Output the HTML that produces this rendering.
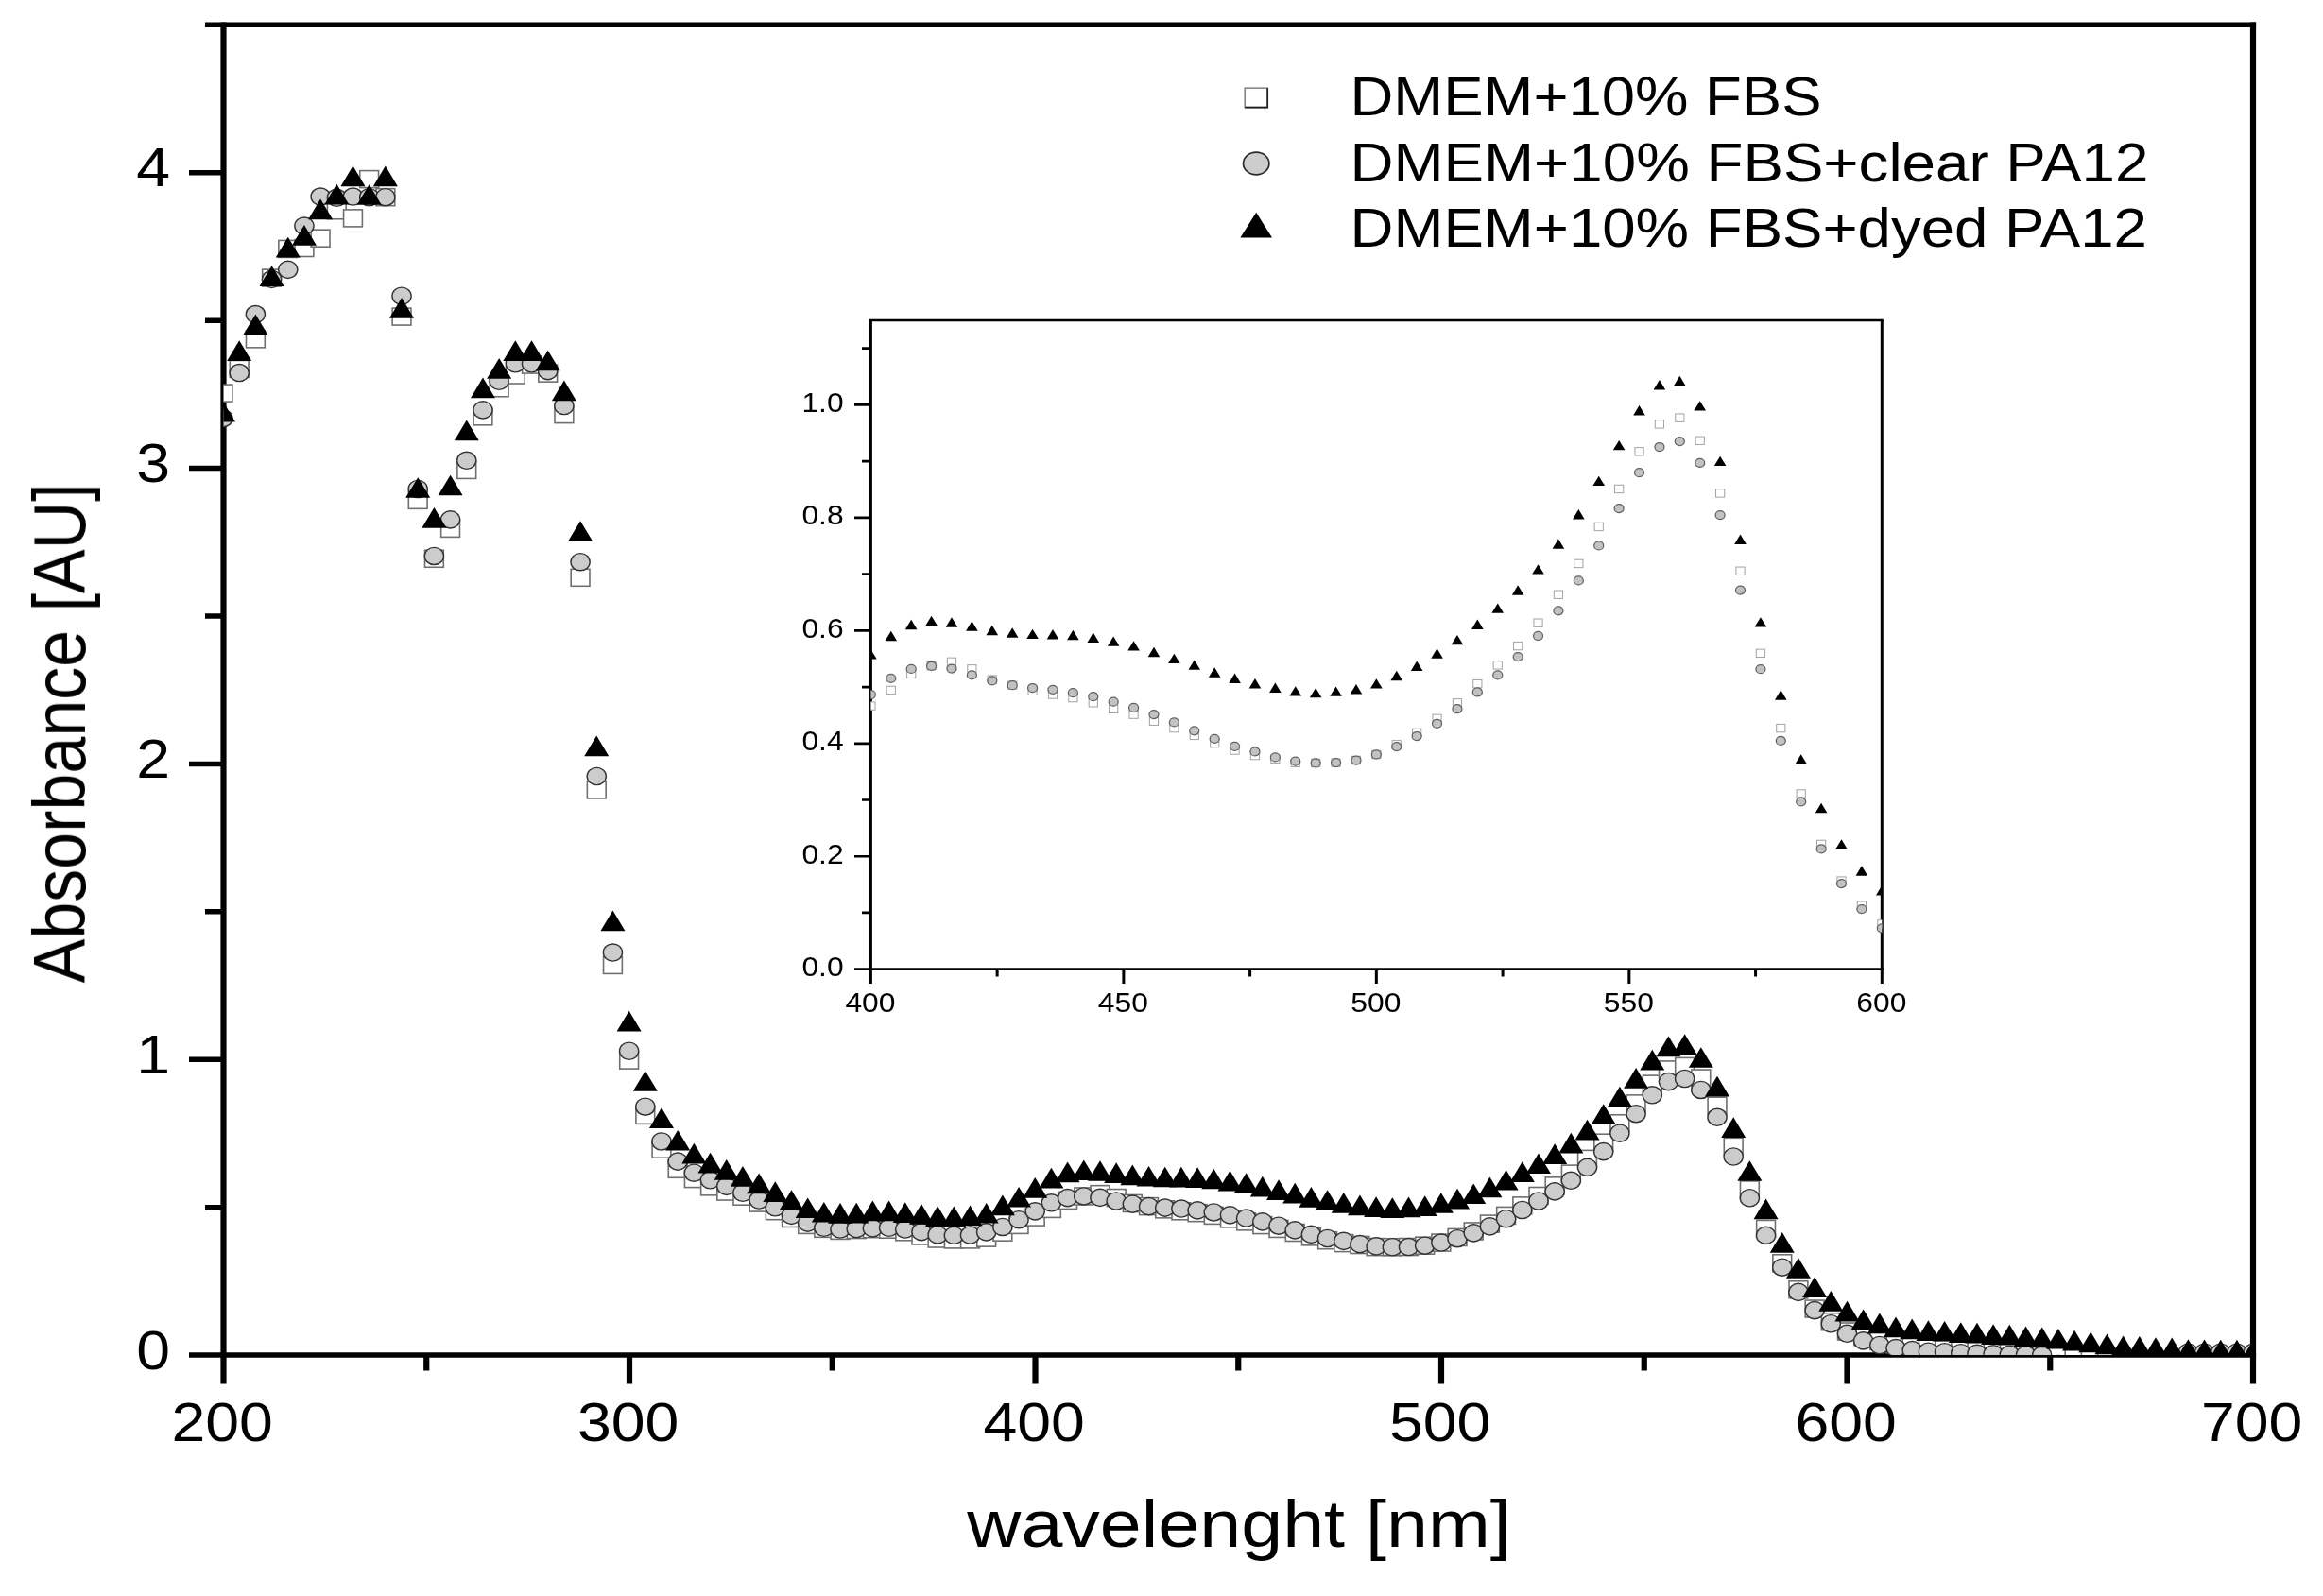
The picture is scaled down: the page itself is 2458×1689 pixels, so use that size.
<!DOCTYPE html>
<html lang="en"><head><meta charset="utf-8"><title>Absorbance spectra</title>
<style>html,body{margin:0;padding:0;background:#fff}svg{display:block}text{font-family:"Liberation Sans", sans-serif;fill:#000}</style>
</head><body>
<svg width="2458" height="1689" viewBox="0 0 2458 1689">
<rect x="0" y="0" width="2458" height="1689" fill="#fff"/>
<defs>
<clipPath id="cm"><rect x="236.5" y="26.3" width="2147.5" height="1407.75"/></clipPath>
<clipPath id="ci"><rect x="921.4" y="339" width="1069.9" height="686.7"/></clipPath>
<filter id="soft" x="0" y="0" width="100%" height="100%" filterUnits="userSpaceOnUse"><feGaussianBlur stdDeviation="0.6"/></filter>
</defs>
<g filter="url(#soft)">
<g stroke="#000" fill="none" stroke-linecap="butt">
<path d="M217 26.3H2387.1" stroke-width="5.5"/>
<path d="M200 1434.05H2387.1" stroke-width="5.5"/>
<path d="M236.5 23.55V1464.5" stroke-width="6.2"/>
<path d="M2384 23.55V1464.5" stroke-width="6.2"/>
<path d="M217 1277.63H236.5M200 1121.22H236.5M217 964.8H236.5M200 808.38H236.5M217 651.97H236.5M200 495.55H236.5M217 339.13H236.5M200 182.72H236.5" stroke-width="5.5"/>
<path d="M451.25 1434.05V1450.5M666 1434.05V1464.5M880.75 1434.05V1450.5M1095.5 1434.05V1464.5M1310.25 1434.05V1450.5M1525 1434.05V1464.5M1739.75 1434.05V1450.5M1954.5 1434.05V1464.5M2169.25 1434.05V1450.5" stroke-width="6.2"/>
</g>
<g clip-path="url(#cm)">
<g fill="#fff" stroke="#707070" stroke-width="1.6">
<rect x="226.1" y="407.09" width="19.8" height="18"/>
<rect x="243.28" y="381.44" width="19.8" height="18"/>
<rect x="260.47" y="349.84" width="19.8" height="18"/>
<rect x="277.65" y="285.09" width="19.8" height="18"/>
<rect x="294.84" y="254.43" width="19.8" height="18"/>
<rect x="312.02" y="253.49" width="19.8" height="18"/>
<rect x="329.21" y="243.17" width="19.8" height="18"/>
<rect x="346.39" y="213.76" width="19.8" height="18"/>
<rect x="363.58" y="221.89" width="19.8" height="18"/>
<rect x="380.76" y="180.6" width="19.8" height="18"/>
<rect x="397.95" y="199.68" width="19.8" height="18"/>
<rect x="415.13" y="326.07" width="19.8" height="18"/>
<rect x="432.32" y="520.34" width="19.8" height="18"/>
<rect x="449.5" y="582.28" width="19.8" height="18"/>
<rect x="466.69" y="550.37" width="19.8" height="18"/>
<rect x="483.87" y="488.43" width="19.8" height="18"/>
<rect x="501.06" y="431.8" width="19.8" height="18"/>
<rect x="518.24" y="401.77" width="19.8" height="18"/>
<rect x="535.43" y="388.01" width="19.8" height="18"/>
<rect x="552.61" y="377.06" width="19.8" height="18"/>
<rect x="569.8" y="386.13" width="19.8" height="18"/>
<rect x="586.98" y="429.61" width="19.8" height="18"/>
<rect x="604.17" y="602.3" width="19.8" height="18"/>
<rect x="621.35" y="826.91" width="19.8" height="18"/>
<rect x="638.54" y="1012.42" width="19.8" height="18"/>
<rect x="655.72" y="1113.09" width="19.8" height="18"/>
<rect x="672.9" y="1171.34" width="19.8" height="18"/>
<rect x="690.09" y="1207.22" width="19.8" height="18"/>
<rect x="707.27" y="1228.28" width="19.8" height="18"/>
<rect x="724.46" y="1238.6" width="19.8" height="18"/>
<rect x="741.64" y="1246.86" width="19.8" height="18"/>
<rect x="758.83" y="1252.05" width="19.8" height="18"/>
<rect x="776.01" y="1257.21" width="19.8" height="18"/>
<rect x="793.2" y="1264.1" width="19.8" height="18"/>
<rect x="810.38" y="1272.7" width="19.8" height="18"/>
<rect x="827.57" y="1280.46" width="19.8" height="18"/>
<rect x="844.75" y="1287.4" width="19.8" height="18"/>
<rect x="861.94" y="1291.35" width="19.8" height="18"/>
<rect x="879.12" y="1293.41" width="19.8" height="18"/>
<rect x="896.31" y="1292.53" width="19.8" height="18"/>
<rect x="913.49" y="1291.69" width="19.8" height="18"/>
<rect x="930.68" y="1292.19" width="19.8" height="18"/>
<rect x="947.86" y="1294.79" width="19.8" height="18"/>
<rect x="965.05" y="1298.92" width="19.8" height="18"/>
<rect x="982.23" y="1302.01" width="19.8" height="18"/>
<rect x="999.42" y="1302.89" width="19.8" height="18"/>
<rect x="1016.6" y="1302.89" width="19.8" height="18"/>
<rect x="1033.79" y="1301.17" width="19.8" height="18"/>
<rect x="1050.97" y="1295.16" width="19.8" height="18"/>
<rect x="1068.16" y="1287.4" width="19.8" height="18"/>
<rect x="1085.34" y="1279.11" width="19.8" height="18"/>
<rect x="1102.52" y="1270.39" width="19.8" height="18"/>
<rect x="1119.71" y="1261.41" width="19.8" height="18"/>
<rect x="1136.89" y="1256.96" width="19.8" height="18"/>
<rect x="1154.08" y="1254.65" width="19.8" height="18"/>
<rect x="1171.26" y="1258.56" width="19.8" height="18"/>
<rect x="1188.45" y="1264.47" width="19.8" height="18"/>
<rect x="1205.63" y="1267.63" width="19.8" height="18"/>
<rect x="1222.82" y="1270.85" width="19.8" height="18"/>
<rect x="1240" y="1272.79" width="19.8" height="18"/>
<rect x="1257.19" y="1274.67" width="19.8" height="18"/>
<rect x="1274.37" y="1277.39" width="19.8" height="18"/>
<rect x="1291.56" y="1280.8" width="19.8" height="18"/>
<rect x="1308.74" y="1283.84" width="19.8" height="18"/>
<rect x="1325.93" y="1287.59" width="19.8" height="18"/>
<rect x="1343.11" y="1291.44" width="19.8" height="18"/>
<rect x="1360.3" y="1295.51" width="19.8" height="18"/>
<rect x="1377.48" y="1299.82" width="19.8" height="18"/>
<rect x="1394.67" y="1303.7" width="19.8" height="18"/>
<rect x="1411.85" y="1306.61" width="19.8" height="18"/>
<rect x="1429.04" y="1308.52" width="19.8" height="18"/>
<rect x="1446.22" y="1310.65" width="19.8" height="18"/>
<rect x="1463.41" y="1310.74" width="19.8" height="18"/>
<rect x="1480.59" y="1310.55" width="19.8" height="18"/>
<rect x="1497.78" y="1309.21" width="19.8" height="18"/>
<rect x="1514.96" y="1306.05" width="19.8" height="18"/>
<rect x="1532.14" y="1300.45" width="19.8" height="18"/>
<rect x="1549.33" y="1293.97" width="19.8" height="18"/>
<rect x="1566.51" y="1286.09" width="19.8" height="18"/>
<rect x="1583.7" y="1277.42" width="19.8" height="18"/>
<rect x="1600.88" y="1266.88" width="19.8" height="18"/>
<rect x="1618.07" y="1256.5" width="19.8" height="18"/>
<rect x="1635.25" y="1245.86" width="19.8" height="18"/>
<rect x="1652.44" y="1233.1" width="19.8" height="18"/>
<rect x="1669.62" y="1217.39" width="19.8" height="18"/>
<rect x="1686.81" y="1200.22" width="19.8" height="18"/>
<rect x="1703.99" y="1179.79" width="19.8" height="18"/>
<rect x="1721.18" y="1158.86" width="19.8" height="18"/>
<rect x="1738.36" y="1138.12" width="19.8" height="18"/>
<rect x="1755.55" y="1122.95" width="19.8" height="18"/>
<rect x="1772.73" y="1119.41" width="19.8" height="18"/>
<rect x="1789.92" y="1132.05" width="19.8" height="18"/>
<rect x="1807.1" y="1161.21" width="19.8" height="18"/>
<rect x="1824.29" y="1204.31" width="19.8" height="18"/>
<rect x="1841.47" y="1249.93" width="19.8" height="18"/>
<rect x="1858.66" y="1291.44" width="19.8" height="18"/>
<rect x="1875.84" y="1327.79" width="19.8" height="18"/>
<rect x="1893.03" y="1355.76" width="19.8" height="18"/>
<rect x="1910.21" y="1376.03" width="19.8" height="18"/>
<rect x="1927.4" y="1389.7" width="19.8" height="18"/>
<rect x="1944.58" y="1400.02" width="19.8" height="18"/>
<rect x="1961.76" y="1405.65" width="19.8" height="18"/>
<rect x="1978.95" y="1410.35" width="19.8" height="18"/>
<rect x="1996.13" y="1413.88" width="19.8" height="18"/>
<rect x="2013.32" y="1415.98" width="19.8" height="18"/>
<rect x="2030.5" y="1418.01" width="19.8" height="18"/>
<rect x="2047.69" y="1418.54" width="19.8" height="18"/>
<rect x="2064.87" y="1419.73" width="19.8" height="18"/>
<rect x="2082.06" y="1420.36" width="19.8" height="18"/>
<rect x="2099.24" y="1420.98" width="19.8" height="18"/>
<rect x="2116.43" y="1421.61" width="19.8" height="18"/>
<rect x="2133.61" y="1422.23" width="19.8" height="18"/>
<rect x="2150.8" y="1423.8" width="19.8" height="18"/>
<rect x="2167.98" y="1426.3" width="19.8" height="18"/>
<rect x="2185.17" y="1427.87" width="19.8" height="18"/>
<rect x="2202.35" y="1429.43" width="19.8" height="18"/>
<rect x="2219.54" y="1431.62" width="19.8" height="18"/>
<rect x="2236.72" y="1432.56" width="19.8" height="18"/>
<rect x="2253.91" y="1434.43" width="19.8" height="18"/>
<rect x="2271.09" y="1434.43" width="19.8" height="18"/>
<rect x="2288.28" y="1434.43" width="19.8" height="18"/>
<rect x="2305.46" y="1434.43" width="19.8" height="18"/>
<rect x="2322.65" y="1434.43" width="19.8" height="18"/>
<rect x="2339.83" y="1434.43" width="19.8" height="18"/>
<rect x="2357.02" y="1434.43" width="19.8" height="18"/>
<rect x="2374.2" y="1434.43" width="19.8" height="18"/>
</g>
<g fill="#cccccc" stroke="#333" stroke-width="1.4">
<ellipse cx="236" cy="442.68" rx="10.1" ry="9.1"/>
<ellipse cx="253.18" cy="394.57" rx="10.1" ry="9.1"/>
<ellipse cx="270.37" cy="332.56" rx="10.1" ry="9.1"/>
<ellipse cx="287.55" cy="295.34" rx="10.1" ry="9.1"/>
<ellipse cx="304.74" cy="285.33" rx="10.1" ry="9.1"/>
<ellipse cx="321.92" cy="239.03" rx="10.1" ry="9.1"/>
<ellipse cx="339.11" cy="208.06" rx="10.1" ry="9.1"/>
<ellipse cx="356.29" cy="209.31" rx="10.1" ry="9.1"/>
<ellipse cx="373.48" cy="208.06" rx="10.1" ry="9.1"/>
<ellipse cx="390.66" cy="208.68" rx="10.1" ry="9.1"/>
<ellipse cx="407.85" cy="208.68" rx="10.1" ry="9.1"/>
<ellipse cx="425.03" cy="313.23" rx="10.1" ry="9.1"/>
<ellipse cx="442.22" cy="517.45" rx="10.1" ry="9.1"/>
<ellipse cx="459.4" cy="588.46" rx="10.1" ry="9.1"/>
<ellipse cx="476.59" cy="549.83" rx="10.1" ry="9.1"/>
<ellipse cx="493.77" cy="487.29" rx="10.1" ry="9.1"/>
<ellipse cx="510.96" cy="433.92" rx="10.1" ry="9.1"/>
<ellipse cx="528.14" cy="403.26" rx="10.1" ry="9.1"/>
<ellipse cx="545.33" cy="384.81" rx="10.1" ry="9.1"/>
<ellipse cx="562.51" cy="384.81" rx="10.1" ry="9.1"/>
<ellipse cx="579.7" cy="392.63" rx="10.1" ry="9.1"/>
<ellipse cx="596.88" cy="429.54" rx="10.1" ry="9.1"/>
<ellipse cx="614.07" cy="594.72" rx="10.1" ry="9.1"/>
<ellipse cx="631.25" cy="821.52" rx="10.1" ry="9.1"/>
<ellipse cx="648.44" cy="1008.03" rx="10.1" ry="9.1"/>
<ellipse cx="665.62" cy="1112.27" rx="10.1" ry="9.1"/>
<ellipse cx="682.8" cy="1171.21" rx="10.1" ry="9.1"/>
<ellipse cx="699.99" cy="1207.93" rx="10.1" ry="9.1"/>
<ellipse cx="717.17" cy="1229.14" rx="10.1" ry="9.1"/>
<ellipse cx="734.36" cy="1241.22" rx="10.1" ry="9.1"/>
<ellipse cx="751.54" cy="1248.79" rx="10.1" ry="9.1"/>
<ellipse cx="768.73" cy="1255.36" rx="10.1" ry="9.1"/>
<ellipse cx="785.91" cy="1262.24" rx="10.1" ry="9.1"/>
<ellipse cx="803.1" cy="1270" rx="10.1" ry="9.1"/>
<ellipse cx="820.28" cy="1277.76" rx="10.1" ry="9.1"/>
<ellipse cx="837.47" cy="1286.39" rx="10.1" ry="9.1"/>
<ellipse cx="854.65" cy="1294.15" rx="10.1" ry="9.1"/>
<ellipse cx="871.84" cy="1299.31" rx="10.1" ry="9.1"/>
<ellipse cx="889.02" cy="1301.03" rx="10.1" ry="9.1"/>
<ellipse cx="906.21" cy="1300.53" rx="10.1" ry="9.1"/>
<ellipse cx="923.39" cy="1299.84" rx="10.1" ry="9.1"/>
<ellipse cx="940.58" cy="1299.31" rx="10.1" ry="9.1"/>
<ellipse cx="957.76" cy="1301.03" rx="10.1" ry="9.1"/>
<ellipse cx="974.95" cy="1303.6" rx="10.1" ry="9.1"/>
<ellipse cx="992.13" cy="1306.73" rx="10.1" ry="9.1"/>
<ellipse cx="1009.32" cy="1307.35" rx="10.1" ry="9.1"/>
<ellipse cx="1026.5" cy="1307.04" rx="10.1" ry="9.1"/>
<ellipse cx="1043.69" cy="1303.91" rx="10.1" ry="9.1"/>
<ellipse cx="1060.87" cy="1298.47" rx="10.1" ry="9.1"/>
<ellipse cx="1078.06" cy="1290.71" rx="10.1" ry="9.1"/>
<ellipse cx="1095.24" cy="1281.86" rx="10.1" ry="9.1"/>
<ellipse cx="1112.42" cy="1272.82" rx="10.1" ry="9.1"/>
<ellipse cx="1129.61" cy="1267.59" rx="10.1" ry="9.1"/>
<ellipse cx="1146.79" cy="1265.96" rx="10.1" ry="9.1"/>
<ellipse cx="1163.98" cy="1267.4" rx="10.1" ry="9.1"/>
<ellipse cx="1181.16" cy="1271" rx="10.1" ry="9.1"/>
<ellipse cx="1198.35" cy="1274.1" rx="10.1" ry="9.1"/>
<ellipse cx="1215.53" cy="1276.63" rx="10.1" ry="9.1"/>
<ellipse cx="1232.72" cy="1278.13" rx="10.1" ry="9.1"/>
<ellipse cx="1249.9" cy="1279.07" rx="10.1" ry="9.1"/>
<ellipse cx="1267.09" cy="1280.86" rx="10.1" ry="9.1"/>
<ellipse cx="1284.27" cy="1282.95" rx="10.1" ry="9.1"/>
<ellipse cx="1301.46" cy="1285.83" rx="10.1" ry="9.1"/>
<ellipse cx="1318.64" cy="1289.08" rx="10.1" ry="9.1"/>
<ellipse cx="1335.83" cy="1292.84" rx="10.1" ry="9.1"/>
<ellipse cx="1353.01" cy="1297.19" rx="10.1" ry="9.1"/>
<ellipse cx="1370.2" cy="1301.88" rx="10.1" ry="9.1"/>
<ellipse cx="1387.38" cy="1306.38" rx="10.1" ry="9.1"/>
<ellipse cx="1404.57" cy="1310.51" rx="10.1" ry="9.1"/>
<ellipse cx="1421.75" cy="1313.42" rx="10.1" ry="9.1"/>
<ellipse cx="1438.94" cy="1316.58" rx="10.1" ry="9.1"/>
<ellipse cx="1456.12" cy="1318.83" rx="10.1" ry="9.1"/>
<ellipse cx="1473.31" cy="1319.74" rx="10.1" ry="9.1"/>
<ellipse cx="1490.49" cy="1319.55" rx="10.1" ry="9.1"/>
<ellipse cx="1507.68" cy="1318.21" rx="10.1" ry="9.1"/>
<ellipse cx="1524.86" cy="1315.05" rx="10.1" ry="9.1"/>
<ellipse cx="1542.04" cy="1310.7" rx="10.1" ry="9.1"/>
<ellipse cx="1559.23" cy="1304.85" rx="10.1" ry="9.1"/>
<ellipse cx="1576.41" cy="1297.9" rx="10.1" ry="9.1"/>
<ellipse cx="1593.6" cy="1289.77" rx="10.1" ry="9.1"/>
<ellipse cx="1610.78" cy="1280.48" rx="10.1" ry="9.1"/>
<ellipse cx="1627.97" cy="1271" rx="10.1" ry="9.1"/>
<ellipse cx="1645.15" cy="1260.9" rx="10.1" ry="9.1"/>
<ellipse cx="1662.34" cy="1249.32" rx="10.1" ry="9.1"/>
<ellipse cx="1679.52" cy="1235.34" rx="10.1" ry="9.1"/>
<ellipse cx="1696.71" cy="1218.66" rx="10.1" ry="9.1"/>
<ellipse cx="1713.89" cy="1199.27" rx="10.1" ry="9.1"/>
<ellipse cx="1731.08" cy="1178.68" rx="10.1" ry="9.1"/>
<ellipse cx="1748.26" cy="1158.82" rx="10.1" ry="9.1"/>
<ellipse cx="1765.45" cy="1144.59" rx="10.1" ry="9.1"/>
<ellipse cx="1782.63" cy="1141.52" rx="10.1" ry="9.1"/>
<ellipse cx="1799.82" cy="1153.44" rx="10.1" ry="9.1"/>
<ellipse cx="1817" cy="1182.31" rx="10.1" ry="9.1"/>
<ellipse cx="1834.19" cy="1223.98" rx="10.1" ry="9.1"/>
<ellipse cx="1851.37" cy="1267.75" rx="10.1" ry="9.1"/>
<ellipse cx="1868.56" cy="1307.42" rx="10.1" ry="9.1"/>
<ellipse cx="1885.74" cy="1341.2" rx="10.1" ry="9.1"/>
<ellipse cx="1902.93" cy="1367.39" rx="10.1" ry="9.1"/>
<ellipse cx="1920.11" cy="1386.59" rx="10.1" ry="9.1"/>
<ellipse cx="1937.3" cy="1400.73" rx="10.1" ry="9.1"/>
<ellipse cx="1954.48" cy="1411.31" rx="10.1" ry="9.1"/>
<ellipse cx="1971.66" cy="1418.85" rx="10.1" ry="9.1"/>
<ellipse cx="1988.85" cy="1423.51" rx="10.1" ry="9.1"/>
<ellipse cx="2006.03" cy="1426.6" rx="10.1" ry="9.1"/>
<ellipse cx="2023.22" cy="1428.67" rx="10.1" ry="9.1"/>
<ellipse cx="2040.4" cy="1430.23" rx="10.1" ry="9.1"/>
<ellipse cx="2057.59" cy="1430.73" rx="10.1" ry="9.1"/>
<ellipse cx="2074.77" cy="1431.77" rx="10.1" ry="9.1"/>
<ellipse cx="2091.96" cy="1432.3" rx="10.1" ry="9.1"/>
<ellipse cx="2109.14" cy="1432.8" rx="10.1" ry="9.1"/>
<ellipse cx="2126.33" cy="1433.33" rx="10.1" ry="9.1"/>
<ellipse cx="2143.51" cy="1433.74" rx="10.1" ry="9.1"/>
<ellipse cx="2160.7" cy="1434.05" rx="10.1" ry="9.1"/>
<ellipse cx="2177.88" cy="1443.43" rx="10.1" ry="9.1"/>
<ellipse cx="2195.07" cy="1445" rx="10.1" ry="9.1"/>
<ellipse cx="2212.25" cy="1446.56" rx="10.1" ry="9.1"/>
<ellipse cx="2229.44" cy="1446.56" rx="10.1" ry="9.1"/>
<ellipse cx="2246.62" cy="1446.56" rx="10.1" ry="9.1"/>
<ellipse cx="2263.81" cy="1446.56" rx="10.1" ry="9.1"/>
<ellipse cx="2280.99" cy="1443.43" rx="10.1" ry="9.1"/>
<ellipse cx="2298.18" cy="1437.18" rx="10.1" ry="9.1"/>
<ellipse cx="2315.36" cy="1431.23" rx="10.1" ry="9.1"/>
<ellipse cx="2332.55" cy="1431.23" rx="10.1" ry="9.1"/>
<ellipse cx="2349.73" cy="1431.23" rx="10.1" ry="9.1"/>
<ellipse cx="2366.92" cy="1431.23" rx="10.1" ry="9.1"/>
<ellipse cx="2384.1" cy="1431.23" rx="10.1" ry="9.1"/>
</g>
<g fill="#000">
<path d="M236 424.77L249 446.47L223 446.47Z"/>
<path d="M253.18 360.33L266.18 382.03L240.18 382.03Z"/>
<path d="M270.37 332.49L283.37 354.19L257.37 354.19Z"/>
<path d="M287.55 281.18L300.55 302.88L274.55 302.88Z"/>
<path d="M304.74 250.84L317.74 272.54L291.74 272.54Z"/>
<path d="M321.92 238.01L334.92 259.71L308.92 259.71Z"/>
<path d="M339.11 210.48L352.11 232.18L326.11 232.18Z"/>
<path d="M356.29 194.84L369.29 216.54L343.29 216.54Z"/>
<path d="M373.48 175.45L386.48 197.15L360.48 197.15Z"/>
<path d="M390.66 195.15L403.66 216.85L377.66 216.85Z"/>
<path d="M407.85 175.45L420.85 197.15L394.85 197.15Z"/>
<path d="M425.03 314.97L438.03 336.67L412.03 336.67Z"/>
<path d="M442.22 505.17L455.22 526.87L429.22 526.87Z"/>
<path d="M459.4 537.08L472.4 558.78L446.4 558.78Z"/>
<path d="M476.59 502.67L489.59 524.37L463.59 524.37Z"/>
<path d="M493.77 444.48L506.77 466.18L480.77 466.18Z"/>
<path d="M510.96 399.43L523.96 421.13L497.96 421.13Z"/>
<path d="M528.14 379.1L541.14 400.8L515.14 400.8Z"/>
<path d="M545.33 360.33L558.33 382.03L532.33 382.03Z"/>
<path d="M562.51 360.33L575.51 382.03L549.51 382.03Z"/>
<path d="M579.7 370.65L592.7 392.35L566.7 392.35Z"/>
<path d="M596.88 402.56L609.88 424.26L583.88 424.26Z"/>
<path d="M614.07 551.16L627.07 572.86L601.07 572.86Z"/>
<path d="M631.25 778.59L644.25 800.29L618.25 800.29Z"/>
<path d="M648.44 963.47L661.44 985.17L635.44 985.17Z"/>
<path d="M665.62 1069.84L678.62 1091.54L652.62 1091.54Z"/>
<path d="M682.8 1133.15L695.8 1154.85L669.8 1154.85Z"/>
<path d="M699.99 1172.35L712.99 1194.05L686.99 1194.05Z"/>
<path d="M717.17 1195.88L730.17 1217.58L704.17 1217.58Z"/>
<path d="M734.36 1209.86L747.36 1231.56L721.36 1231.56Z"/>
<path d="M751.54 1219.68L764.54 1241.38L738.54 1241.38Z"/>
<path d="M768.73 1227.1L781.73 1248.8L755.73 1248.8Z"/>
<path d="M785.91 1233.98L798.91 1255.68L772.91 1255.68Z"/>
<path d="M803.1 1241.58L816.1 1263.28L790.1 1263.28Z"/>
<path d="M820.28 1250.22L833.28 1271.92L807.28 1271.92Z"/>
<path d="M837.47 1259.32L850.47 1281.02L824.47 1281.02Z"/>
<path d="M854.65 1267.42L867.65 1289.12L841.65 1289.12Z"/>
<path d="M871.84 1271.89L884.84 1293.59L858.84 1293.59Z"/>
<path d="M889.02 1273.11L902.02 1294.81L876.02 1294.81Z"/>
<path d="M906.21 1272.77L919.21 1294.47L893.21 1294.47Z"/>
<path d="M923.39 1270.55L936.39 1292.25L910.39 1292.25Z"/>
<path d="M940.58 1270.55L953.58 1292.25L927.58 1292.25Z"/>
<path d="M957.76 1272.27L970.76 1293.97L944.76 1293.97Z"/>
<path d="M974.95 1273.99L987.95 1295.69L961.95 1295.69Z"/>
<path d="M992.13 1276.24L1005.13 1297.94L979.13 1297.94Z"/>
<path d="M1009.32 1276.43L1022.32 1298.13L996.32 1298.13Z"/>
<path d="M1026.5 1275.55L1039.5 1297.25L1013.5 1297.25Z"/>
<path d="M1043.69 1272.9L1056.69 1294.6L1030.69 1294.6Z"/>
<path d="M1060.87 1264.51L1073.87 1286.21L1047.87 1286.21Z"/>
<path d="M1078.06 1255.91L1091.06 1277.61L1065.06 1277.61Z"/>
<path d="M1095.24 1245.93L1108.24 1267.63L1082.24 1267.63Z"/>
<path d="M1112.42 1235.76L1125.42 1257.46L1099.42 1257.46Z"/>
<path d="M1129.61 1229.44L1142.61 1251.14L1116.61 1251.14Z"/>
<path d="M1146.79 1227.41L1159.79 1249.11L1133.79 1249.11Z"/>
<path d="M1163.98 1228.16L1176.98 1249.86L1150.98 1249.86Z"/>
<path d="M1181.16 1230.29L1194.16 1251.99L1168.16 1251.99Z"/>
<path d="M1198.35 1232.6L1211.35 1254.3L1185.35 1254.3Z"/>
<path d="M1215.53 1233.92L1228.53 1255.62L1202.53 1255.62Z"/>
<path d="M1232.72 1234.67L1245.72 1256.37L1219.72 1256.37Z"/>
<path d="M1249.9 1234.82L1262.9 1256.52L1236.9 1256.52Z"/>
<path d="M1267.09 1235.23L1280.09 1256.93L1254.09 1256.93Z"/>
<path d="M1284.27 1236.67L1297.27 1258.37L1271.27 1258.37Z"/>
<path d="M1301.46 1238.7L1314.46 1260.4L1288.46 1260.4Z"/>
<path d="M1318.64 1241.17L1331.64 1262.87L1305.64 1262.87Z"/>
<path d="M1335.83 1244.68L1348.83 1266.38L1322.83 1266.38Z"/>
<path d="M1353.01 1248.28L1366.01 1269.98L1340.01 1269.98Z"/>
<path d="M1370.2 1251.81L1383.2 1273.51L1357.2 1273.51Z"/>
<path d="M1387.38 1255.94L1400.38 1277.64L1374.38 1277.64Z"/>
<path d="M1404.57 1259.22L1417.57 1280.92L1391.57 1280.92Z"/>
<path d="M1421.75 1262.1L1434.75 1283.8L1408.75 1283.8Z"/>
<path d="M1438.94 1264.45L1451.94 1286.15L1425.94 1286.15Z"/>
<path d="M1456.12 1266.36L1469.12 1288.06L1443.12 1288.06Z"/>
<path d="M1473.31 1267.23L1486.31 1288.93L1460.31 1288.93Z"/>
<path d="M1490.49 1266.45L1503.49 1288.15L1477.49 1288.15Z"/>
<path d="M1507.68 1265.26L1520.68 1286.96L1494.68 1286.96Z"/>
<path d="M1524.86 1262.17L1537.86 1283.87L1511.86 1283.87Z"/>
<path d="M1542.04 1257.75L1555.04 1279.45L1529.04 1279.45Z"/>
<path d="M1559.23 1252.41L1572.23 1274.11L1546.23 1274.11Z"/>
<path d="M1576.41 1245.49L1589.41 1267.19L1563.41 1267.19Z"/>
<path d="M1593.6 1237.92L1606.6 1259.62L1580.6 1259.62Z"/>
<path d="M1610.78 1229.35L1623.78 1251.05L1597.78 1251.05Z"/>
<path d="M1627.97 1220.4L1640.97 1242.1L1614.97 1242.1Z"/>
<path d="M1645.15 1210.33L1658.15 1232.03L1632.15 1232.03Z"/>
<path d="M1662.34 1198.79L1675.34 1220.49L1649.34 1220.49Z"/>
<path d="M1679.52 1184.74L1692.52 1206.44L1666.52 1206.44Z"/>
<path d="M1696.71 1168.35L1709.71 1190.05L1683.71 1190.05Z"/>
<path d="M1713.89 1149.8L1726.89 1171.5L1700.89 1171.5Z"/>
<path d="M1731.08 1130.06L1744.08 1151.76L1718.08 1151.76Z"/>
<path d="M1748.26 1110.75L1761.26 1132.45L1735.26 1132.45Z"/>
<path d="M1765.45 1096.55L1778.45 1118.25L1752.45 1118.25Z"/>
<path d="M1782.63 1094.33L1795.63 1116.03L1769.63 1116.03Z"/>
<path d="M1799.82 1108.16L1812.82 1129.86L1786.82 1129.86Z"/>
<path d="M1817 1138.82L1830 1160.52L1804 1160.52Z"/>
<path d="M1834.19 1182.24L1847.19 1203.94L1821.19 1203.94Z"/>
<path d="M1851.37 1228.13L1864.37 1249.83L1838.37 1249.83Z"/>
<path d="M1868.56 1268.52L1881.56 1290.22L1855.56 1290.22Z"/>
<path d="M1885.74 1304.12L1898.74 1325.82L1872.74 1325.82Z"/>
<path d="M1902.93 1331.11L1915.93 1352.81L1889.93 1352.81Z"/>
<path d="M1920.11 1351.26L1933.11 1372.96L1907.11 1372.96Z"/>
<path d="M1937.3 1365.93L1950.3 1387.63L1924.3 1387.63Z"/>
<path d="M1954.48 1376.82L1967.48 1398.52L1941.48 1398.52Z"/>
<path d="M1971.66 1385.48L1984.66 1407.18L1958.66 1407.18Z"/>
<path d="M1988.85 1389.61L2001.85 1411.31L1975.85 1411.31Z"/>
<path d="M2006.03 1393.52L2019.03 1415.22L1993.03 1415.22Z"/>
<path d="M2023.22 1395.62L2036.22 1417.32L2010.22 1417.32Z"/>
<path d="M2040.4 1397.34L2053.4 1419.04L2027.4 1419.04Z"/>
<path d="M2057.59 1397.9L2070.59 1419.6L2044.59 1419.6Z"/>
<path d="M2074.77 1399.22L2087.77 1420.92L2061.77 1420.92Z"/>
<path d="M2091.96 1399.72L2104.96 1421.42L2078.96 1421.42Z"/>
<path d="M2109.14 1401.28L2122.14 1422.98L2096.14 1422.98Z"/>
<path d="M2126.33 1401.81L2139.33 1423.51L2113.33 1423.51Z"/>
<path d="M2143.51 1403.57L2156.51 1425.27L2130.51 1425.27Z"/>
<path d="M2160.7 1404.6L2173.7 1426.3L2147.7 1426.3Z"/>
<path d="M2177.88 1405.91L2190.88 1427.61L2164.88 1427.61Z"/>
<path d="M2195.07 1407.7L2208.07 1429.4L2182.07 1429.4Z"/>
<path d="M2212.25 1409.6L2225.25 1431.3L2199.25 1431.3Z"/>
<path d="M2229.44 1411.61L2242.44 1433.31L2216.44 1433.31Z"/>
<path d="M2246.62 1413.51L2259.62 1435.21L2233.62 1435.21Z"/>
<path d="M2263.81 1413.92L2276.81 1435.62L2250.81 1435.62Z"/>
<path d="M2280.99 1415.2L2293.99 1436.9L2267.99 1436.9Z"/>
<path d="M2298.18 1415.52L2311.18 1437.22L2285.18 1437.22Z"/>
<path d="M2315.36 1417.3L2328.36 1439L2302.36 1439Z"/>
<path d="M2332.55 1417.61L2345.55 1439.31L2319.55 1439.31Z"/>
<path d="M2349.73 1417.8L2362.73 1439.5L2336.73 1439.5Z"/>
<path d="M2366.92 1417.8L2379.92 1439.5L2353.92 1439.5Z"/>
<path d="M2384.1 1418.02L2397.1 1439.72L2371.1 1439.72Z"/>
</g>
</g>
<text transform="translate(235.1 1525.2) scale(1.12 1)" font-size="57.5" text-anchor="middle">200</text>
<text transform="translate(664.6 1525.2) scale(1.12 1)" font-size="57.5" text-anchor="middle">300</text>
<text transform="translate(1094.1 1525.2) scale(1.12 1)" font-size="57.5" text-anchor="middle">400</text>
<text transform="translate(1523.6 1525.2) scale(1.12 1)" font-size="57.5" text-anchor="middle">500</text>
<text transform="translate(1953.1 1525.2) scale(1.12 1)" font-size="57.5" text-anchor="middle">600</text>
<text transform="translate(2382.6 1525.2) scale(1.12 1)" font-size="57.5" text-anchor="middle">700</text>
<text transform="translate(180.1 1448.55) scale(1.12 1)" font-size="57.5" text-anchor="end">0</text>
<text transform="translate(180.1 1135.72) scale(1.12 1)" font-size="57.5" text-anchor="end">1</text>
<text transform="translate(180.1 822.88) scale(1.12 1)" font-size="57.5" text-anchor="end">2</text>
<text transform="translate(180.1 510.05) scale(1.12 1)" font-size="57.5" text-anchor="end">3</text>
<text transform="translate(180.1 197.22) scale(1.12 1)" font-size="57.5" text-anchor="end">4</text>
<text transform="translate(1311 1637.4) scale(1.129 1)" font-size="70" text-anchor="middle">wavelenght [nm]</text>
<text transform="translate(90 775.8) rotate(-90) scale(1 1.12)" font-size="70" text-anchor="middle">Absorbance [AU]</text>
<rect x="1317.2" y="93.2" width="24" height="20.4" fill="#fff" stroke="#8a8a8a" stroke-width="1.7"/>
<path d="M1341.2 93.2V113.6H1317.2" fill="none" stroke="#222" stroke-width="1.7"/>
<ellipse cx="1329.2" cy="173" rx="13.7" ry="11.8" fill="#cdcdcd" stroke="#2b2b2b" stroke-width="1.7"/>
<path d="M1329.2 224.7L1346 251.6L1312.4 251.6Z" fill="#000"/>
<text transform="translate(1428.5 122.3) scale(1.104 1)" font-size="57.5" text-anchor="start">DMEM+10% FBS</text>
<text transform="translate(1428.5 191.8) scale(1.108 1)" font-size="57.5" text-anchor="start">DMEM+10% FBS+clear PA12</text>
<text transform="translate(1428.5 261.4) scale(1.106 1)" font-size="57.5" text-anchor="start">DMEM+10% FBS+dyed PA12</text>
<g stroke="#000" fill="none">
<path d="M919.9 339H1992.8" stroke-width="2.7"/>
<path d="M904 1025.7H1992.8" stroke-width="2.7"/>
<path d="M921.4 339V1041" stroke-width="3.0"/>
<path d="M1991.3 339V1041" stroke-width="3.0"/>
<path d="M912 965.97H921.4M904 906.24H921.4M912 846.51H921.4M904 786.78H921.4M912 727.05H921.4M904 667.32H921.4M912 607.59H921.4M904 547.86H921.4M912 488.13H921.4M904 428.4H921.4M912 368.67H921.4" stroke-width="2.7"/>
<path d="M1055.14 1025.7V1033.5M1188.88 1025.7V1041M1322.61 1025.7V1033.5M1456.35 1025.7V1041M1590.09 1025.7V1033.5M1723.83 1025.7V1041M1857.56 1025.7V1033.5" stroke-width="3.0"/>
</g>
<g clip-path="url(#ci)">
<g fill="#fff" stroke="#a6a6a6" stroke-width="1.05">
<rect x="916.8" y="742.86" width="9.2" height="8.4"/>
<rect x="938.2" y="726.19" width="9.2" height="8.4"/>
<rect x="959.6" y="709.05" width="9.2" height="8.4"/>
<rect x="980.99" y="700.57" width="9.2" height="8.4"/>
<rect x="1002.39" y="696.15" width="9.2" height="8.4"/>
<rect x="1023.79" y="703.62" width="9.2" height="8.4"/>
<rect x="1045.19" y="714.91" width="9.2" height="8.4"/>
<rect x="1066.59" y="720.94" width="9.2" height="8.4"/>
<rect x="1087.98" y="727.09" width="9.2" height="8.4"/>
<rect x="1109.38" y="730.79" width="9.2" height="8.4"/>
<rect x="1130.78" y="734.38" width="9.2" height="8.4"/>
<rect x="1152.18" y="739.57" width="9.2" height="8.4"/>
<rect x="1173.58" y="746.08" width="9.2" height="8.4"/>
<rect x="1194.97" y="751.88" width="9.2" height="8.4"/>
<rect x="1216.37" y="759.05" width="9.2" height="8.4"/>
<rect x="1237.77" y="766.39" width="9.2" height="8.4"/>
<rect x="1259.17" y="774.16" width="9.2" height="8.4"/>
<rect x="1280.57" y="782.4" width="9.2" height="8.4"/>
<rect x="1301.96" y="789.81" width="9.2" height="8.4"/>
<rect x="1323.36" y="795.36" width="9.2" height="8.4"/>
<rect x="1344.76" y="799.01" width="9.2" height="8.4"/>
<rect x="1366.16" y="803.07" width="9.2" height="8.4"/>
<rect x="1387.56" y="803.25" width="9.2" height="8.4"/>
<rect x="1408.95" y="802.89" width="9.2" height="8.4"/>
<rect x="1430.35" y="800.32" width="9.2" height="8.4"/>
<rect x="1451.75" y="794.29" width="9.2" height="8.4"/>
<rect x="1473.15" y="783.6" width="9.2" height="8.4"/>
<rect x="1494.55" y="771.23" width="9.2" height="8.4"/>
<rect x="1515.94" y="756.18" width="9.2" height="8.4"/>
<rect x="1537.34" y="739.63" width="9.2" height="8.4"/>
<rect x="1558.74" y="719.51" width="9.2" height="8.4"/>
<rect x="1580.14" y="699.67" width="9.2" height="8.4"/>
<rect x="1601.54" y="679.37" width="9.2" height="8.4"/>
<rect x="1622.93" y="655" width="9.2" height="8.4"/>
<rect x="1644.33" y="625.01" width="9.2" height="8.4"/>
<rect x="1665.73" y="592.22" width="9.2" height="8.4"/>
<rect x="1687.13" y="553.22" width="9.2" height="8.4"/>
<rect x="1708.53" y="513.26" width="9.2" height="8.4"/>
<rect x="1729.92" y="473.66" width="9.2" height="8.4"/>
<rect x="1751.32" y="444.69" width="9.2" height="8.4"/>
<rect x="1772.72" y="437.94" width="9.2" height="8.4"/>
<rect x="1794.12" y="462.07" width="9.2" height="8.4"/>
<rect x="1815.52" y="517.74" width="9.2" height="8.4"/>
<rect x="1836.91" y="600.05" width="9.2" height="8.4"/>
<rect x="1858.31" y="687.13" width="9.2" height="8.4"/>
<rect x="1879.71" y="766.39" width="9.2" height="8.4"/>
<rect x="1901.11" y="835.8" width="9.2" height="8.4"/>
<rect x="1922.51" y="889.2" width="9.2" height="8.4"/>
<rect x="1943.9" y="927.9" width="9.2" height="8.4"/>
<rect x="1965.3" y="954.01" width="9.2" height="8.4"/>
<rect x="1986.7" y="973.72" width="9.2" height="8.4"/>
</g>
<g fill="#c2c2c2" stroke="#606060" stroke-width="1.25">
<ellipse cx="921.4" cy="735.11" rx="5.0" ry="4.5"/>
<ellipse cx="942.8" cy="717.85" rx="5.0" ry="4.5"/>
<ellipse cx="964.2" cy="707.88" rx="5.0" ry="4.5"/>
<ellipse cx="985.59" cy="704.77" rx="5.0" ry="4.5"/>
<ellipse cx="1006.99" cy="707.52" rx="5.0" ry="4.5"/>
<ellipse cx="1028.39" cy="714.39" rx="5.0" ry="4.5"/>
<ellipse cx="1049.79" cy="720.3" rx="5.0" ry="4.5"/>
<ellipse cx="1071.19" cy="725.14" rx="5.0" ry="4.5"/>
<ellipse cx="1092.58" cy="728.01" rx="5.0" ry="4.5"/>
<ellipse cx="1113.98" cy="729.8" rx="5.0" ry="4.5"/>
<ellipse cx="1135.38" cy="733.2" rx="5.0" ry="4.5"/>
<ellipse cx="1156.78" cy="737.2" rx="5.0" ry="4.5"/>
<ellipse cx="1178.18" cy="742.7" rx="5.0" ry="4.5"/>
<ellipse cx="1199.57" cy="748.91" rx="5.0" ry="4.5"/>
<ellipse cx="1220.97" cy="756.08" rx="5.0" ry="4.5"/>
<ellipse cx="1242.37" cy="764.38" rx="5.0" ry="4.5"/>
<ellipse cx="1263.77" cy="773.34" rx="5.0" ry="4.5"/>
<ellipse cx="1285.17" cy="781.94" rx="5.0" ry="4.5"/>
<ellipse cx="1306.56" cy="789.83" rx="5.0" ry="4.5"/>
<ellipse cx="1327.96" cy="795.38" rx="5.0" ry="4.5"/>
<ellipse cx="1349.36" cy="801.41" rx="5.0" ry="4.5"/>
<ellipse cx="1370.76" cy="805.71" rx="5.0" ry="4.5"/>
<ellipse cx="1392.16" cy="807.45" rx="5.0" ry="4.5"/>
<ellipse cx="1413.55" cy="807.09" rx="5.0" ry="4.5"/>
<ellipse cx="1434.95" cy="804.52" rx="5.0" ry="4.5"/>
<ellipse cx="1456.35" cy="798.49" rx="5.0" ry="4.5"/>
<ellipse cx="1477.75" cy="790.18" rx="5.0" ry="4.5"/>
<ellipse cx="1499.15" cy="779.02" rx="5.0" ry="4.5"/>
<ellipse cx="1520.54" cy="765.76" rx="5.0" ry="4.5"/>
<ellipse cx="1541.94" cy="750.23" rx="5.0" ry="4.5"/>
<ellipse cx="1563.34" cy="732.49" rx="5.0" ry="4.5"/>
<ellipse cx="1584.74" cy="714.39" rx="5.0" ry="4.5"/>
<ellipse cx="1606.14" cy="695.09" rx="5.0" ry="4.5"/>
<ellipse cx="1627.53" cy="672.99" rx="5.0" ry="4.5"/>
<ellipse cx="1648.93" cy="646.3" rx="5.0" ry="4.5"/>
<ellipse cx="1670.33" cy="614.46" rx="5.0" ry="4.5"/>
<ellipse cx="1691.73" cy="577.43" rx="5.0" ry="4.5"/>
<ellipse cx="1713.13" cy="538.12" rx="5.0" ry="4.5"/>
<ellipse cx="1734.52" cy="500.2" rx="5.0" ry="4.5"/>
<ellipse cx="1755.92" cy="473.02" rx="5.0" ry="4.5"/>
<ellipse cx="1777.32" cy="467.16" rx="5.0" ry="4.5"/>
<ellipse cx="1798.72" cy="489.92" rx="5.0" ry="4.5"/>
<ellipse cx="1820.12" cy="545.05" rx="5.0" ry="4.5"/>
<ellipse cx="1841.51" cy="624.61" rx="5.0" ry="4.5"/>
<ellipse cx="1862.91" cy="708.18" rx="5.0" ry="4.5"/>
<ellipse cx="1884.31" cy="783.91" rx="5.0" ry="4.5"/>
<ellipse cx="1905.71" cy="848.42" rx="5.0" ry="4.5"/>
<ellipse cx="1927.11" cy="898.42" rx="5.0" ry="4.5"/>
<ellipse cx="1948.5" cy="935.09" rx="5.0" ry="4.5"/>
<ellipse cx="1969.9" cy="962.09" rx="5.0" ry="4.5"/>
<ellipse cx="1991.3" cy="982.28" rx="5.0" ry="4.5"/>
</g>
<g fill="#000">
<path d="M921.4 687.21L927.7 697.61L915.1 697.61Z"/>
<path d="M942.8 667.79L949.1 678.19L936.5 678.19Z"/>
<path d="M964.2 655.73L970.5 666.13L957.9 666.13Z"/>
<path d="M985.59 651.85L991.89 662.25L979.29 662.25Z"/>
<path d="M1006.99 653.28L1013.29 663.68L1000.69 663.68Z"/>
<path d="M1028.39 657.34L1034.69 667.74L1022.09 667.74Z"/>
<path d="M1049.79 661.76L1056.09 672.16L1043.49 672.16Z"/>
<path d="M1071.19 664.27L1077.49 674.67L1064.89 674.67Z"/>
<path d="M1092.58 665.7L1098.88 676.1L1086.28 676.1Z"/>
<path d="M1113.98 666L1120.28 676.4L1107.68 676.4Z"/>
<path d="M1135.38 666.78L1141.68 677.18L1129.08 677.18Z"/>
<path d="M1156.78 669.53L1163.08 679.93L1150.48 679.93Z"/>
<path d="M1178.18 673.41L1184.48 683.81L1171.88 683.81Z"/>
<path d="M1199.57 678.13L1205.87 688.53L1193.27 688.53Z"/>
<path d="M1220.97 684.82L1227.27 695.22L1214.67 695.22Z"/>
<path d="M1242.37 691.69L1248.67 702.09L1236.07 702.09Z"/>
<path d="M1263.77 698.43L1270.07 708.83L1257.47 708.83Z"/>
<path d="M1285.17 706.32L1291.47 716.72L1278.87 716.72Z"/>
<path d="M1306.56 712.59L1312.86 722.99L1300.26 722.99Z"/>
<path d="M1327.96 718.09L1334.26 728.49L1321.66 728.49Z"/>
<path d="M1349.36 722.57L1355.66 732.97L1343.06 732.97Z"/>
<path d="M1370.76 726.21L1377.06 736.61L1364.46 736.61Z"/>
<path d="M1392.16 727.88L1398.46 738.28L1385.86 738.28Z"/>
<path d="M1413.55 726.39L1419.85 736.79L1407.25 736.79Z"/>
<path d="M1434.95 724.12L1441.25 734.52L1428.65 734.52Z"/>
<path d="M1456.35 718.21L1462.65 728.61L1450.05 728.61Z"/>
<path d="M1477.75 709.78L1484.05 720.18L1471.45 720.18Z"/>
<path d="M1499.15 699.57L1505.45 709.97L1492.85 709.97Z"/>
<path d="M1520.54 686.37L1526.84 696.77L1514.24 696.77Z"/>
<path d="M1541.94 671.91L1548.24 682.31L1535.64 682.31Z"/>
<path d="M1563.34 655.55L1569.64 665.95L1557.04 665.95Z"/>
<path d="M1584.74 638.47L1591.04 648.87L1578.44 648.87Z"/>
<path d="M1606.14 619.23L1612.44 629.63L1599.84 629.63Z"/>
<path d="M1627.53 597.19L1633.83 607.59L1621.23 607.59Z"/>
<path d="M1648.93 570.37L1655.23 580.77L1642.63 580.77Z"/>
<path d="M1670.33 539.08L1676.63 549.48L1664.03 549.48Z"/>
<path d="M1691.73 503.66L1698.03 514.06L1685.43 514.06Z"/>
<path d="M1713.13 465.97L1719.43 476.37L1706.83 476.37Z"/>
<path d="M1734.52 429.11L1740.82 439.51L1728.22 439.51Z"/>
<path d="M1755.92 401.99L1762.22 412.39L1749.62 412.39Z"/>
<path d="M1777.32 397.75L1783.62 408.15L1771.02 408.15Z"/>
<path d="M1798.72 424.15L1805.02 434.55L1792.42 434.55Z"/>
<path d="M1820.12 482.69L1826.42 493.09L1813.82 493.09Z"/>
<path d="M1841.51 565.6L1847.81 576L1835.21 576Z"/>
<path d="M1862.91 653.22L1869.21 663.62L1856.61 663.62Z"/>
<path d="M1884.31 730.33L1890.61 740.73L1878.01 740.73Z"/>
<path d="M1905.71 798.3L1912.01 808.7L1899.41 808.7Z"/>
<path d="M1927.11 849.85L1933.41 860.25L1920.81 860.25Z"/>
<path d="M1948.5 888.32L1954.8 898.72L1942.2 898.72Z"/>
<path d="M1969.9 916.33L1976.2 926.73L1963.6 926.73Z"/>
<path d="M1991.3 937.12L1997.6 947.52L1985 947.52Z"/>
</g>
</g>
<text transform="translate(920.9 1071.2) scale(1.06 1)" font-size="30" text-anchor="middle">400</text>
<text transform="translate(1188.38 1071.2) scale(1.06 1)" font-size="30" text-anchor="middle">450</text>
<text transform="translate(1455.85 1071.2) scale(1.06 1)" font-size="30" text-anchor="middle">500</text>
<text transform="translate(1723.33 1071.2) scale(1.06 1)" font-size="30" text-anchor="middle">550</text>
<text transform="translate(1990.8 1071.2) scale(1.06 1)" font-size="30" text-anchor="middle">600</text>
<text transform="translate(892.6 1033.3) scale(1.06 1)" font-size="30" text-anchor="end">0.0</text>
<text transform="translate(892.6 913.84) scale(1.06 1)" font-size="30" text-anchor="end">0.2</text>
<text transform="translate(892.6 794.38) scale(1.06 1)" font-size="30" text-anchor="end">0.4</text>
<text transform="translate(892.6 674.92) scale(1.06 1)" font-size="30" text-anchor="end">0.6</text>
<text transform="translate(892.6 555.46) scale(1.06 1)" font-size="30" text-anchor="end">0.8</text>
<text transform="translate(892.6 436) scale(1.06 1)" font-size="30" text-anchor="end">1.0</text>
</g>
</svg>
</body></html>
